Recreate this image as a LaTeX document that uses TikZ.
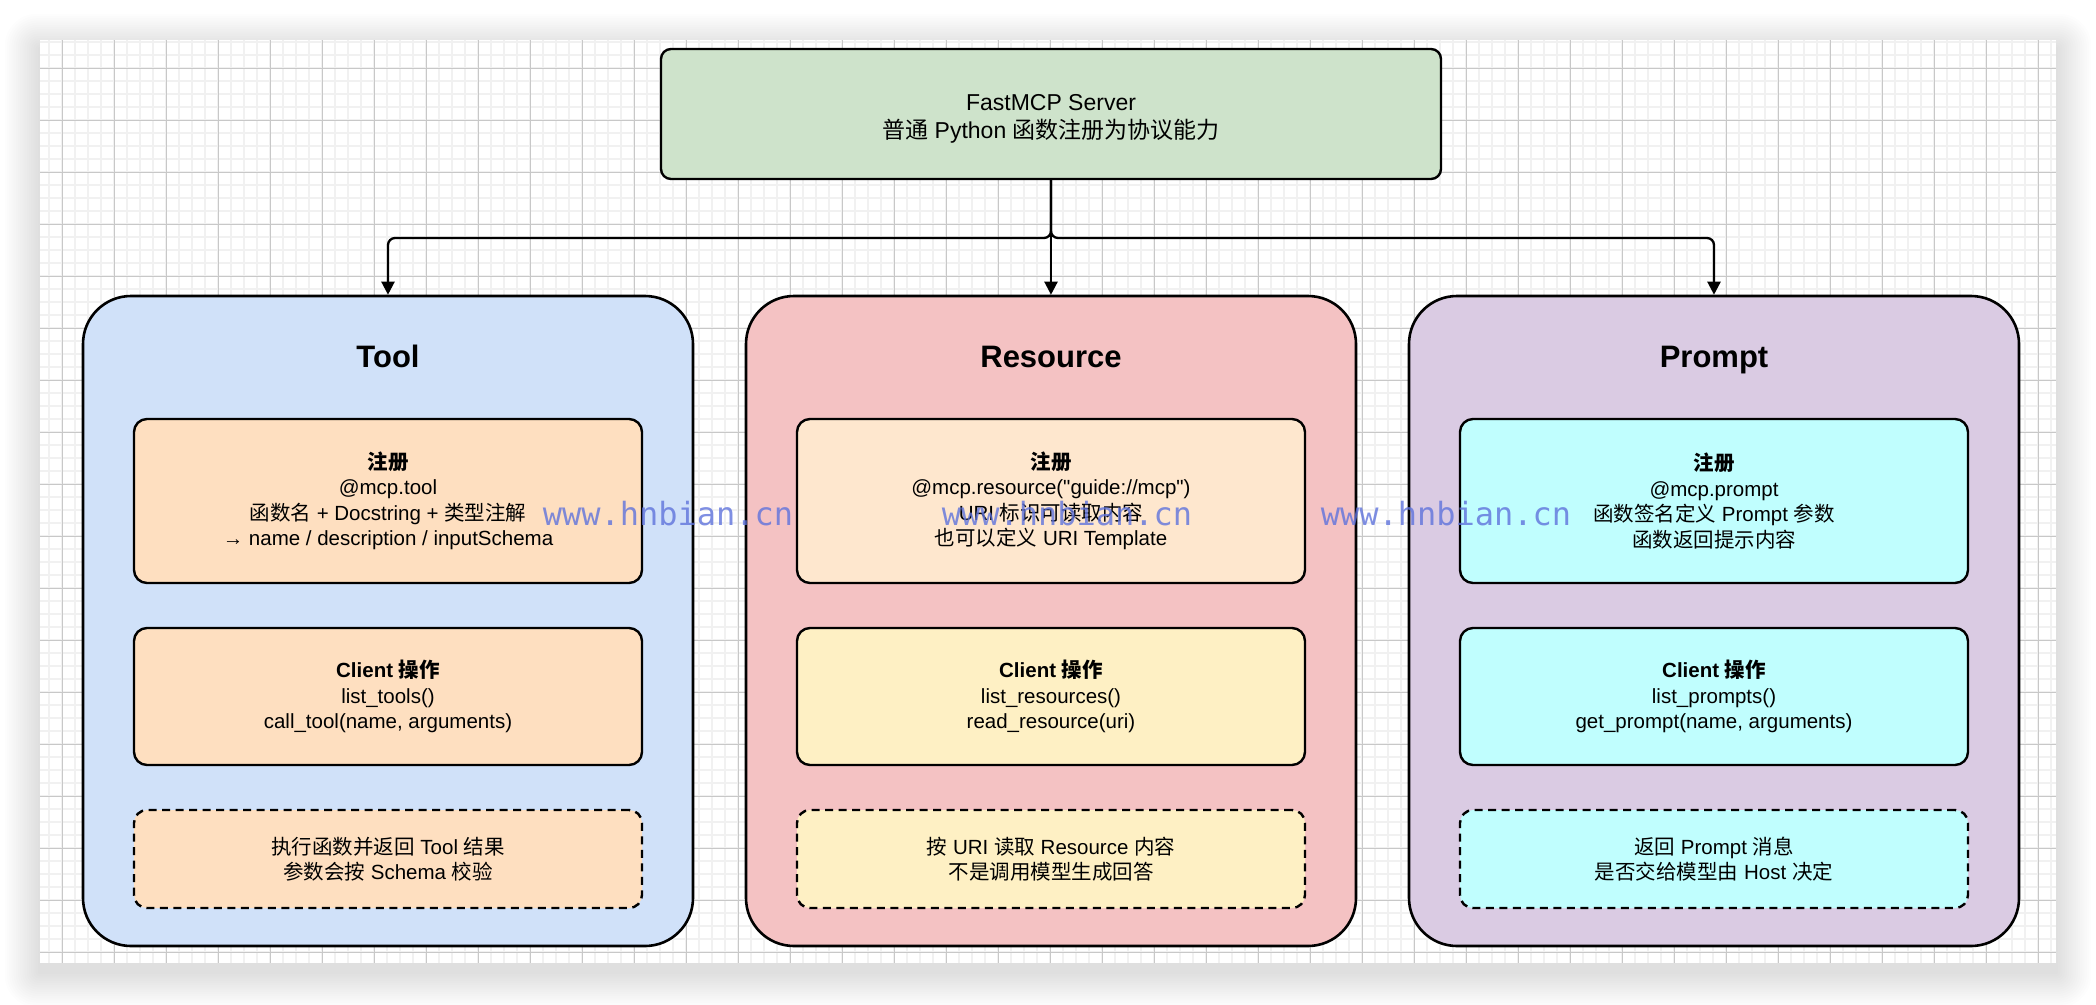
\documentclass[tikz,border=0pt]{standalone}
\usepackage{fontspec}
\setmainfont{Liberation Sans}[Ligatures=TeXOff]
\newfontfamily\cjk{Noto Sans CJK SC}
\newfontfamily\wmfont{DejaVu Sans Mono}
\usetikzlibrary{arrows.meta}
\newcommand\zh[1]{{\cjk #1}}
\definecolor{srvbg}{RGB}{206,227,203}
\definecolor{toolbg}{RGB}{208,225,249}
\definecolor{resbg}{RGB}{244,194,195}
\definecolor{prmbg}{RGB}{218,203,227}
\definecolor{toolin}{RGB}{254,223,192}
\definecolor{resinA}{RGB}{254,231,206}
\definecolor{resinB}{RGB}{254,240,196}
\definecolor{prmin}{RGB}{192,254,254}
\definecolor{gridminor}{RGB}{241,241,241}
\definecolor{gridmajor}{RGB}{200,200,200}
\definecolor{wmcol}{RGB}{95,115,220}
\begin{document}
\begin{tikzpicture}[x=1pt,y=-1pt,
  container/.style={draw=black, line width=2.6pt, rounded corners=48pt, minimum width=610pt, minimum height=650pt, inner sep=0pt},
  innerbox/.style={draw=black, line width=2.4pt, rounded corners=13pt, minimum width=508pt, align=center, inner sep=0pt, font={\fontsize{20.5}{25.5}\selectfont}},
  dashedbox/.style={innerbox, dash pattern=on 8pt off 5.5pt},
  titletext/.style={font={\fontsize{31}{36}\selectfont\bfseries}, anchor=base},
  conn/.style={line width=2.3pt, -{Triangle[length=13pt,width=13pt]}, rounded corners=7pt},
  wm/.style={font={\fontsize{32}{36}\selectfont\wmfont}, text=wmcol, opacity=0.8, anchor=base},
  minorline/.style={draw=gridminor, line width=2pt},
  majorline/.style={draw=gridmajor, line width=1.1pt}
]
\useasboundingbox (0,0) rectangle (2096,1004);
\fill[white] (0,0) rectangle (2096,1004);
% canvas shadow
\foreach \i in {1,...,16} {
  \fill[black, opacity=0.007, rounded corners={2*\i}] ({40-2.2*\i},{40-2.2*\i+9}) rectangle ({2056+2.2*\i},{963+2.2*\i+9});
}
\fill[white] (40,40) rectangle (2056,963);
% grid
\foreach \i in {0,...,154} { \draw[minorline] ({49.3+13*\i},40) -- ({49.3+13*\i},963); }
\foreach \j in {0,...,70} { \draw[minorline] (40,{42.3+13*\j}) -- (2056,{42.3+13*\j}); }
\foreach \i in {0,...,38} { \draw[majorline] ({62.3+52*\i},40) -- ({62.3+52*\i},963); }
\foreach \j in {0,...,17} { \draw[majorline] (40,{68.3+52*\j}) -- (2056,{68.3+52*\j}); }

% server
\node[draw=black, line width=2.4pt, rounded corners=10pt, fill=srvbg, minimum width=780pt, minimum height=130pt, align=center, inner sep=0pt, font={\fontsize{23}{28}\selectfont}] (srv) at (1051,114)
  {\rule{0pt}{25pt}FastMCP Server\\\zh{普通} Python \zh{函数注册为协议能力}};

% containers
\node[container, fill=toolbg] (tool) at (388,621) {};
\node[container, fill=resbg] (res) at (1051,621) {};
\node[container, fill=prmbg] (prm) at (1714,621) {};

\node[titletext] (tooltitle) at (388,367) {Tool};
\node[titletext] (restitle) at (1051,367) {Resource};
\node[titletext] (prmtitle) at (1714,367) {Prompt};

% Tool inner
\node[innerbox, fill=toolin, minimum height=164pt] (toolreg) at (388,501)
  {\textbf{\zh{注册}}\\@mcp.tool\\\zh{函数名} + Docstring + \zh{类型注解}\\→ name / description / inputSchema};
\node[innerbox, fill=toolin, minimum height=137pt] (toolcli) at (388,696.5)
  {\textbf{Client \zh{操作}}\\list\_tools()\\call\_tool(name, arguments)};
\node[dashedbox, fill=toolin, minimum height=98pt] (toolres) at (388,859)
  {\zh{执行函数并返回} Tool \zh{结果}\\\zh{参数会按} Schema \zh{校验}};

% Resource inner
\node[innerbox, fill=resinA, minimum height=164pt] (resreg) at (1051,501)
  {\textbf{\zh{注册}}\\@mcp.resource("guide://mcp")\\URI \zh{标识可读取内容}\\\zh{也可以定义} URI Template};
\node[innerbox, fill=resinB, minimum height=137pt] (rescli) at (1051,696.5)
  {\textbf{Client \zh{操作}}\\list\_resources()\\read\_resource(uri)};
\node[dashedbox, fill=resinB, minimum height=98pt] (resres) at (1051,859)
  {\zh{按} URI \zh{读取} Resource \zh{内容}\\\zh{不是调用模型生成回答}};

% Prompt inner
\node[innerbox, fill=prmin, minimum height=164pt] (prmreg) at (1714,501)
  {\textbf{\zh{注册}}\\@mcp.prompt\\\zh{函数签名定义} Prompt \zh{参数}\\\zh{函数返回提示内容}};
\node[innerbox, fill=prmin, minimum height=137pt] (prmcli) at (1714,696.5)
  {\textbf{Client \zh{操作}}\\list\_prompts()\\get\_prompt(name, arguments)};
\node[dashedbox, fill=prmin, minimum height=98pt] (prmres) at (1714,859)
  {\zh{返回} Prompt \zh{消息}\\\zh{是否交给模型由} Host \zh{决定}};

% connectors
\coordinate (bus) at (1051,238);
\draw[conn] (srv.south) -- (res.north);
\draw[conn] (srv.south) -- (bus) -| (tool.north);
\draw[conn] (srv.south) -- (bus) -| (prm.north);

% watermarks
\node[wm] (wm1) at (668,525) {www.hnbian.cn};
\node[wm] (wm2) at (1067,525) {www.hnbian.cn};
\node[wm] (wm3) at (1446,525) {www.hnbian.cn};
\end{tikzpicture}
\end{document}
